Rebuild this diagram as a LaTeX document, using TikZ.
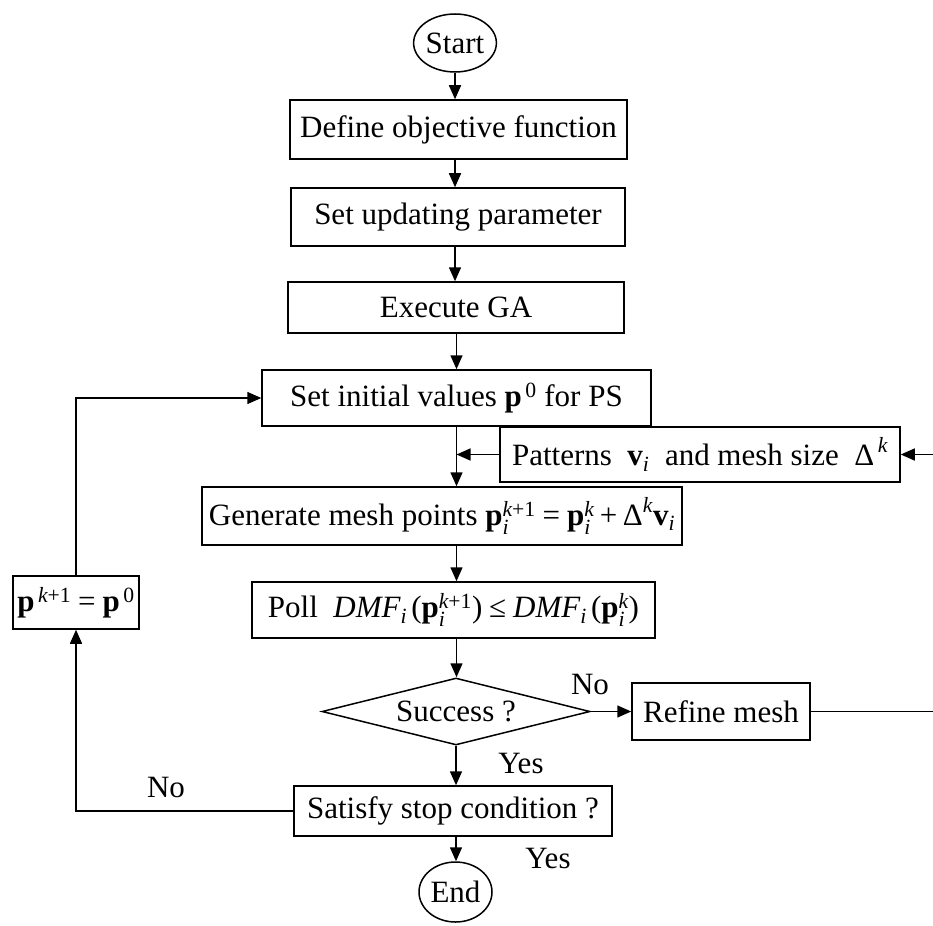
\documentclass[tikz,border=0pt]{standalone}
\usepackage{fontspec}
\usepackage{amsmath}
\setmainfont{Liberation Serif}
\usetikzlibrary{shapes.geometric,arrows.meta}
\newcommand{\myb}[1]{\textbf{#1}}
\newcommand{\myi}[1]{\textit{#1}}
\begin{document}
\begin{tikzpicture}[x=1pt,y=-1pt,
  font=\fontsize{31}{37}\selectfont,
  line width=1.5pt,
  proc/.style={draw, rectangle, inner sep=0pt, align=center},
  term/.style={draw, ellipse, inner sep=0pt},
  decis/.style={draw, diamond, inner sep=0pt, aspect=4},
  arr/.style={-{Triangle[length=14pt,width=12pt]}},
  lbl/.style={inner sep=0pt}]
\useasboundingbox (0,0) rectangle (933,925);

\node[term, minimum width=72pt, minimum height=58pt] (start) at (455,43) {Start};
\node[proc, minimum width=337pt, minimum height=59pt] (def) at (458.5,129.5) {Define objective function};
\node[proc, minimum width=334pt, minimum height=58pt] (upd) at (458,217) {Set updating parameter};
\node[proc, minimum width=336pt, minimum height=51pt] (ga) at (456,307.5) {Execute GA};
\node[proc, minimum width=389pt, minimum height=56pt] (init) at (456.5,398) {Set initial values $\myb{p}^{\,\text{0}}$ for PS};
\node[proc, minimum width=400pt, minimum height=55pt] (pat) at (700,454.5) {Patterns \ $\myb{v}_{\myi{i}}$ \ and mesh size \ $\text{Δ}^{\,\myi{k}}$};
\node[proc, minimum width=480pt, minimum height=58pt] (gen) at (442,516) {Generate mesh points $\myb{p}_{\myi{i}}^{\myi{k}\text{+1}} \mathrel{\text{=}} \myb{p}_{\myi{i}}^{\myi{k}} \mathbin{\text{+}} \text{Δ}^{\myi{k}}\myb{v}_{\myi{i}}$};
\node[proc, minimum width=403pt, minimum height=56pt] (poll) at (453.5,610) {Poll \ $\myi{DMF}_{\myi{i}}\,\text{(}\myb{p}_{\myi{i}}^{\myi{k}\text{+1}}\text{)} \mathrel{\text{≤}} \myi{DMF}_{\myi{i}}\,\text{(}\myb{p}_{\myi{i}}^{\myi{k}}\text{)}$};
\node[decis, minimum width=268pt, minimum height=67pt] (succ) at (456,711.5) {Success ?};
\node[proc, minimum width=178pt, minimum height=57pt] (ref) at (721,711.5) {Refine mesh};
\node[proc, minimum width=318pt, minimum height=50pt] (sat) at (453,811) {Satisfy stop condition ?};
\node[proc, minimum width=126pt, minimum height=53pt] (pk) at (76,602.5) {$\myb{p}^{\,\myi{k}\text{+1}} \mathrel{\text{=}} \myb{p}^{\,\text{0}}$};
\node[term, minimum width=73pt, minimum height=60pt] (end) at (455.5,892) {End};

\coordinate (rc) at (936,711.5);

\draw[arr] (start.south) -- (start.south |- def.north);
\draw[arr] (def.south -| start.south) -- (start.south |- upd.north);
\draw[arr] (upd.south -| start.south) -- (start.south |- ga.north);
\draw[arr] (ga.south -| init.south) -- (init.north);
\draw[arr] (init.south) -- (init.south |- gen.north);
\draw[arr] (pat.west) -- (pat.west -| init.south);
\draw[arr] (poll.south -| init.south) -- (init.south |- succ.north);
\draw[arr] (init.south |- gen.south) -- (init.south |- poll.north);
\draw[arr] (succ.east) -- (ref.west);
\draw[arr] (ref.east) -- (rc) |- (pat.east);
\draw[arr] (succ.south) -- (succ.south |- sat.north);
\draw[arr] (sat.west) -| (pk.south);
\draw[arr] (pk.north) |- (init.west);
\draw[arr] (sat.south -| succ.south) -- (succ.south |- end.north);

\node[lbl] (lno1) at (590,684) {No};
\node[lbl] (lyes1) at (521,763) {Yes};
\node[lbl] (lno2) at (166,787) {No};
\node[lbl] (lyes2) at (548,858) {Yes};
\end{tikzpicture}
\end{document}
